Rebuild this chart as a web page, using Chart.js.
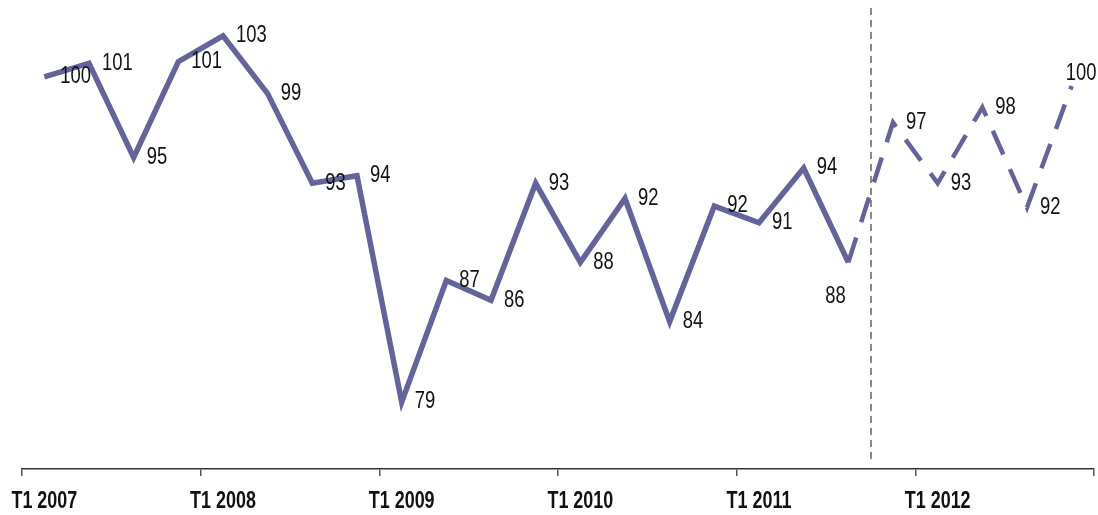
<!DOCTYPE html>
<html>
<head>
<meta charset="utf-8">
<script src="https://cdn.jsdelivr.net/npm/chart.js@4.4.1/dist/chart.umd.min.js"></script>
<style>
  html, body { margin: 0; padding: 0; background: #fff; }
  #wrap { width: 1098px; height: 515px; }
</style>
</head>
<body>
<div id="wrap"><canvas id="myChart" width="1098" height="515"></canvas></div>
<script>
// quarters / years for the category axis
const quarters = ['T1', 'T2', 'T3', 'T4'];
const years = [2007, 2008, 2009, 2010, 2011, 2012];
// index values (labels show the rounded value)
const values = [100.4, 101.3, 95.1, 101.4, 103.1, 99.3, 93.4, 93.9,
  79.0, 87.0, 85.7, 93.4, 88.2, 92.4, 84.3, 91.9,
  90.8, 94.4, 88.2, 97.4, 93.4, 98.4, 91.8, 99.8];
// last point of the observed part, after it the line is a forecast
const lastObserved = 18;

const labels = [];
years.forEach(y => quarters.forEach(q => labels.push(q + ' ' + y)));

const lineColor = '#64649b';
const fontFamily = '"Liberation Sans", Arial, sans-serif';

// label offsets that differ from the default (right of the point)
const labelShift = { 0: [16, 0], 18: [-23, 34], 23: [-6, -12] };

// the original uses a narrow face, squeeze the regular one
function narrowText(ctx, text, x, y, sx) {
  ctx.save();
  ctx.translate(x, y);
  ctx.scale(sx, 1);
  ctx.fillText(text, 0, 0);
  ctx.restore();
}

const pointLabels = {
  id: 'pointLabels',
  afterDatasetsDraw(chart) {
    const ctx = chart.ctx;
    const meta = chart.getDatasetMeta(0);
    ctx.save();
    ctx.font = '23px ' + fontFamily;
    ctx.fillStyle = '#111';
    ctx.textAlign = 'left';
    ctx.textBaseline = 'middle';
    meta.data.forEach((pt, i) => {
      const s = labelShift[i] || [13, 0];
      narrowText(ctx, String(Math.round(values[i])), pt.x + s[0], pt.y + s[1], 0.8);
    });
    ctx.restore();
  }
};

// category labels, only the first quarter of each year
const axisLabels = {
  id: 'axisLabels',
  afterDraw(chart) {
    const x = chart.scales.x;
    const ctx = chart.ctx;
    ctx.save();
    ctx.font = 'bold 23px ' + fontFamily;
    ctx.fillStyle = '#111';
    ctx.textAlign = 'center';
    ctx.textBaseline = 'alphabetic';
    labels.forEach((lab, i) => {
      if (i % 4 !== 0) return;
      narrowText(ctx, lab, x.getPixelForTick(i), x.bottom + 32, 0.78);
    });
    ctx.restore();
  }
};

// dashed separator between observed and forecast quarters
const splitLine = {
  id: 'splitLine',
  beforeDatasetsDraw(chart) {
    const x = chart.scales.x;
    const area = chart.chartArea;
    const px = (x.getPixelForValue(lastObserved) + x.getPixelForValue(lastObserved + 1)) / 2;
    const ctx = chart.ctx;
    ctx.save();
    ctx.strokeStyle = '#8a8a8a';
    ctx.lineWidth = 2;
    ctx.setLineDash([7, 5]);
    ctx.beginPath();
    ctx.moveTo(Math.round(px), area.top + 1);
    ctx.lineTo(Math.round(px), area.bottom - 6);
    ctx.stroke();
    ctx.restore();
  }
};

const ctx = document.getElementById('myChart').getContext('2d');
const myChart = new Chart(ctx, {
  type: 'line',
  data: {
    labels: labels,
    datasets: [{
      data: values,
      borderColor: lineColor,
      borderWidth: 5.5,
      pointRadius: 0,
      tension: 0,
      borderJoinStyle: 'miter',
      borderCapStyle: 'butt',
      segment: {
        borderDash: c => c.p0DataIndex >= lastObserved ? [26, 16] : undefined,
        borderWidth: c => c.p0DataIndex >= lastObserved ? 4.5 : undefined
      }
    }]
  },
  options: {
    responsive: false,
    animation: false,
    layout: { padding: { left: 22, right: 4, top: 7, bottom: 39 } },
    plugins: {
      legend: { display: false },
      tooltip: { enabled: false }
    },
    scales: {
      x: {
        offset: true,
        grid: {
          offset: true,
          drawOnChartArea: false,
          drawTicks: true,
          tickLength: 7,
          lineWidth: 1.5,
          color: c => (c.index === undefined || c.index % 4 === 0) ? '#555' : 'rgba(0,0,0,0)'
        },
        border: { display: true, color: '#333', width: 1.5 },
        ticks: { display: false, autoSkip: false }
      },
      y: {
        display: false,
        min: 74.6,
        max: 105
      }
    }
  },
  plugins: [pointLabels, axisLabels, splitLine]
});
</script>
</body>
</html>
